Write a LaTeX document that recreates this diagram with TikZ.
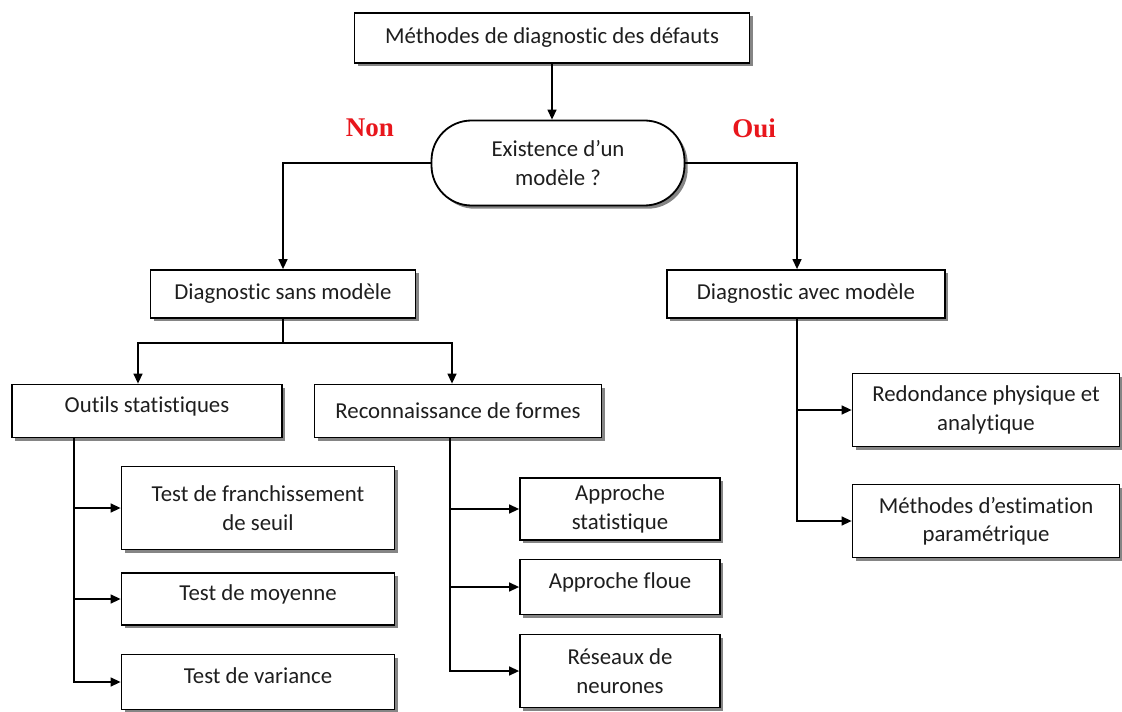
\documentclass[tikz,border=0pt]{standalone}
\usepackage{fontspec}
\setmainfont{Carlito}[Ligatures=NoCommon]
\newfontfamily\serifbf{Liberation Serif}
\usetikzlibrary{arrows.meta,shadows,calc}
\definecolor{rouge}{RGB}{232,22,28}
\definecolor{texte}{RGB}{30,30,30}

\tikzset{
  box/.style={draw, line width=0.9pt, fill=white, text=texte, align=center,
    inner sep=2pt, font=\fontsize{11.4}{14.2}\selectfont,
    drop shadow={shadow xshift=1.6pt, shadow yshift=-1.6pt, fill=black!60, opacity=0.8}},
  haut/.style={text depth=6pt},
  rep/.style={font=\serifbf\bfseries\fontsize{13.5}{15}\selectfont, text=rouge},
  arr/.style={line width=0.7pt, -{Triangle[length=5pt,width=4.5pt]}},
  lien/.style={line width=0.7pt}
}

\begin{document}
\begin{tikzpicture}[x=0.5pt, y=-0.5pt]
\useasboundingbox (0,0) rectangle (1122,711);

% racine et question
\node[box, minimum width=197.5pt, minimum height=25pt] (top) at (552,38) {Méthodes de diagnostic des défauts};
\node[box, minimum width=126.5pt, minimum height=42.5pt, rounded corners=20pt] (ex) at (558,163) {Existence d’un\\modèle ?};
\node[rep] (non) at (370,128) {Non};
\node[rep] (oui) at (754,128) {Oui};

% deux familles
\node[box, minimum width=132.5pt, minimum height=24pt] (sans) at (283,294) {Diagnostic sans modèle};
\node[box, minimum width=139pt, minimum height=24pt] (avec) at (806,294) {Diagnostic avec modèle};

% sans modele
\node[box, haut, minimum width=135pt, minimum height=26.5pt] (outils) at (147,411) {Outils statistiques};
\node[box, minimum width=143.5pt, minimum height=26.5pt] (forme) at (458,411) {Reconnaissance de formes};

\node[box, minimum width=136.5pt, minimum height=41.5pt] (seuil) at (258,508) {Test de franchissement\\de seuil};
\node[box, haut, minimum width=136.5pt, minimum height=26pt] (moy) at (258,599) {Test de moyenne};
\node[box, haut, minimum width=136.5pt, minimum height=27.5pt] (var) at (258,682) {Test de variance};

\node[box, minimum width=100pt, minimum height=31pt] (appst) at (620,509) {Approche\\statistique};
\node[box, haut, minimum width=100pt, minimum height=27.5pt] (floue) at (620,587) {Approche floue};
\node[box, minimum width=100pt, minimum height=36.5pt] (reseau) at (620,671) {Réseaux de\\neurones};

% avec modele
\node[box, minimum width=133.5pt, minimum height=36.5pt] (redond) at (986,410) {Redondance physique et\\analytique};
\node[box, minimum width=133.5pt, minimum height=36.5pt] (estim) at (986,521) {Méthodes d’estimation\\paramétrique};

% connecteurs
\coordinate (t1) at ($(outils.south west)+(63,0)$);
\coordinate (t2) at ($(forme.south)+(-8,0)$);
\coordinate (t3) at ($(avec.south)+(-9,0)$);

\draw[arr] (top.south) -- (top.south |- ex.north);
\draw[arr] (ex.west) -| (sans.north);
\draw[arr] (ex.east) -| (t3 |- avec.north);

\draw[lien] (sans.south) -- ++(0,24) coordinate (js);
\draw[arr] (js) -| ($(outils.north)+(-9,0)$);
\draw[arr] (js) -| ($(forme.north)+(-6,0)$);

\draw[arr] (t1) |- (var.west);
\draw[arr] (t1 |- seuil.west) -- (seuil.west);
\draw[arr] (t1 |- moy.west) -- (moy.west);

\draw[arr] (t2) |- (reseau.west);
\draw[arr] (t2 |- appst.west) -- (appst.west);
\draw[arr] (t2 |- floue.west) -- (floue.west);

\draw[arr] (t3) |- (estim.west);
\draw[arr] (t3 |- redond.west) -- (redond.west);
\end{tikzpicture}
\end{document}
